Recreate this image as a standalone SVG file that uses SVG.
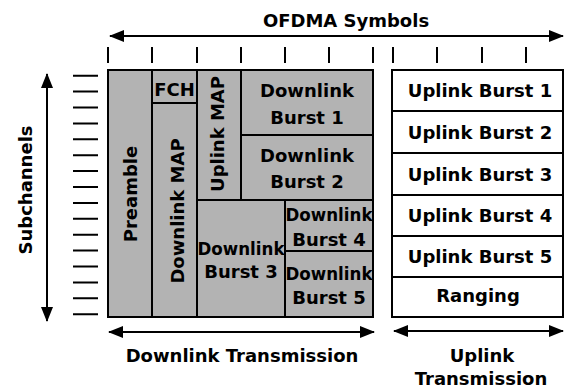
<svg xmlns="http://www.w3.org/2000/svg" width="564" height="389" viewBox="0 0 564 389">
<style>
text{font-family:"DejaVu Sans","Liberation Sans",sans-serif;font-weight:bold;font-size:18px;fill:#000}
.c{text-anchor:middle}
.dl{fill:#b3b3b3;stroke:#000;stroke-width:2}
.ul{fill:#fff;stroke:#000;stroke-width:2}
.tk{stroke:#000;stroke-width:2}
.ax{stroke:#000;stroke-width:2;fill:none;marker-start:url(#ah);marker-end:url(#ah)}
</style>
<defs>
<marker id="ah" viewBox="0 0 15 12" refX="14" refY="6" markerWidth="15" markerHeight="12" markerUnits="userSpaceOnUse" orient="auto-start-reverse">
<path d="M0,0 L15,6 L0,12 z" fill="#000"/>
</marker>
</defs>
<rect width="564" height="389" fill="#fff"/>
<g id="connectors">
<line class="ax" x1="110" y1="36" x2="563" y2="36"/>
<line class="ax" x1="47" y1="74" x2="47" y2="321"/>
<line class="ax" x1="109" y1="332" x2="374" y2="332"/>
<line class="ax" x1="394" y1="331" x2="563" y2="331"/>
</g>
<g id="symbol-ticks">
<path class="tk" d="M108,47V63M152,47V63M197,47V63M241,47V63M285,47V63M329,47V63M373,47V63M393,47V63M437,47V63M482,47V63M526,47V63"/>
</g>
<g id="subchannel-ticks">
<path class="tk" d="M73,75.7H98M73,91.6H98M73,107.5H98M73,123.4H98M73,139.3H98M73,155.2H98M73,171.1H98M73,187H98M73,202.9H98M73,218.8H98M73,234.7H98M73,250.6H98M73,266.5H98M73,282.4H98M73,298.3H98M73,314.2H98"/>
</g>
<g id="preamble"><rect class="dl" x="108" y="70" width="44" height="247"/><text class="c" transform="translate(137,194) rotate(-90)">Preamble</text></g>
<g id="fch"><rect class="dl" x="152" y="70" width="45" height="33"/><text class="c" x="174.5" y="96">FCH</text></g>
<g id="downlink-map"><rect class="dl" x="152" y="103" width="45" height="214"/><text class="c" transform="translate(184,211) rotate(-90)">Downlink MAP</text></g>
<g id="uplink-map"><rect class="dl" x="197" y="70" width="44" height="130"/><text class="c" transform="translate(224,134) rotate(-90)">Uplink MAP</text></g>
<g id="dl-burst-1"><rect class="dl" x="241" y="70" width="132" height="65"/><text class="c" x="307" y="97">Downlink</text><text class="c" x="307" y="124">Burst 1</text></g>
<g id="dl-burst-2"><rect class="dl" x="241" y="135" width="132" height="65"/><text class="c" x="307" y="162">Downlink</text><text class="c" x="307" y="188">Burst 2</text></g>
<g id="dl-burst-3"><rect class="dl" x="197" y="200" width="88" height="117"/><text class="c" x="241" y="255" textLength="87" lengthAdjust="spacingAndGlyphs">Downlink</text><text class="c" x="241" y="278">Burst 3</text></g>
<g id="dl-burst-4"><rect class="dl" x="285" y="200" width="88" height="51"/><text class="c" x="329" y="221" textLength="87" lengthAdjust="spacingAndGlyphs">Downlink</text><text class="c" x="329" y="246">Burst 4</text></g>
<g id="dl-burst-5"><rect class="dl" x="285" y="251" width="88" height="66"/><text class="c" x="329" y="280" textLength="87" lengthAdjust="spacingAndGlyphs">Downlink</text><text class="c" x="329" y="304">Burst 5</text></g>
<g id="ul-burst-1"><rect class="ul" x="392" y="70" width="171" height="41"/><text class="c" x="480" y="97">Uplink Burst 1</text></g>
<g id="ul-burst-2"><rect class="ul" x="392" y="111" width="171" height="42"/><text class="c" x="480" y="139">Uplink Burst 2</text></g>
<g id="ul-burst-3"><rect class="ul" x="392" y="153" width="171" height="42"/><text class="c" x="480" y="181">Uplink Burst 3</text></g>
<g id="ul-burst-4"><rect class="ul" x="392" y="195" width="171" height="41"/><text class="c" x="480" y="222">Uplink Burst 4</text></g>
<g id="ul-burst-5"><rect class="ul" x="392" y="236" width="171" height="41"/><text class="c" x="480" y="263">Uplink Burst 5</text></g>
<g id="ranging"><rect class="ul" x="392" y="277" width="171" height="40"/><text class="c" x="478" y="302">Ranging</text></g>
<g id="labels">
<text class="c" x="346" y="27" font-size="19">OFDMA Symbols</text>
<text class="c" transform="translate(32,190) rotate(-90)">Subchannels</text>
<text class="c" x="242" y="362">Downlink Transmission</text>
<text class="c" x="482" y="362">Uplink</text>
<text class="c" x="481" y="385">Transmission</text>
</g>
</svg>
